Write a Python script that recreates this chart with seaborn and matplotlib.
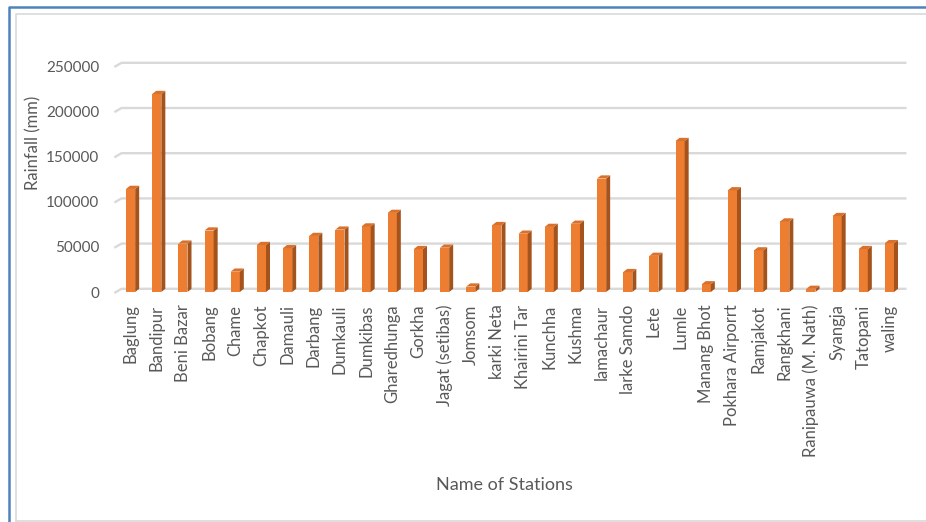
import numpy as np
import pandas as pd
import matplotlib
matplotlib.use("Agg")
import matplotlib.pyplot as plt
from matplotlib.patches import Polygon
from matplotlib.lines import Line2D
import seaborn as sns

stations = [
    "Baglung", "Bandipur", "Beni Bazar", "Bobang", "Chame", "Chapkot",
    "Damauli", "Darbang", "Dumkauli", "Dumkibas", "Gharedhunga", "Gorkha",
    "Jagat (setibas)", "Jomsom", "karki Neta", "Khairini Tar", "Kunchha",
    "Kushma", "lamachaur", "larke Samdo", "Lete", "Lumle", "Manang Bhot",
    "Pokhara Airporrt", "Ramjakot", "Rangkhani", "Ranipauwa (M. Nath)",
    "Syangja", "Tatopani", "waling",
]
rainfall = [
    114000, 219000, 53500, 68000, 22500, 52000,
    48500, 62000, 69000, 72500, 87500, 47500,
    49000, 6000, 74000, 64500, 72000,
    75500, 125500, 22000, 40000, 167000, 8500,
    112500, 46000, 78000, 3500,
    84000, 47500, 54000,
]
y_ticks = [0, 50000, 100000, 150000, 200000, 250000]

df = pd.DataFrame({"station": stations, "rainfall": rainfall})

sns.set_theme(style="white")
plt.rcParams["font.family"] = ["Lato", "DejaVu Sans"]

W, H, DPI = 926, 522, 100
fig = plt.figure(figsize=(W / DPI, H / DPI), dpi=DPI)
fig.patch.set_facecolor("white")

# plot area (front plane of the 3-D columns), in pixels
ax_l, ax_r, ax_b, ax_t = 117.5, 902.5, 292, 66
ax = fig.add_axes([ax_l / W, 1 - ax_b / H, (ax_r - ax_l) / W, (ax_b - ax_t) / H])

FRONT = "#ED7D31"
SIDE = "#A4531C"
TOP = "#D9712C"
GRID = "#D9D9D9"
TEXT = "#595959"

sns.barplot(data=df, x="station", y="rainfall", color=FRONT, width=0.35,
            saturation=1, ax=ax, zorder=3, edgecolor="none")

n = len(stations)
ax.set_xlim(-0.5, n - 0.5)
ax.set_ylim(0, 250000)

# depth of the columns (pixel offsets converted to data units)
dx_px, dy_px = 4.0, 3.2
xpp = n / (ax_r - ax_l)
ypp = 250000 / (ax_b - ax_t)
ddx, ddy = dx_px * xpp, dy_px * ypp

# back-wall gridlines with the slanted floor edge at the left
for v in y_ticks:
    ax.add_line(Line2D([-0.5 - 0.12, -0.5 + ddx, n - 0.5 + ddx],
                       [v - 0.3 * ddy, v + ddy, v + ddy],
                       color=GRID, lw=1.7, zorder=1, clip_on=False,
                       solid_capstyle="butt"))

# side and top faces of each column
for p in list(ax.patches):
    x0 = p.get_x()
    w = p.get_width()
    h = p.get_height()
    x1 = x0 + w
    side = Polygon([(x1, 0), (x1 + ddx, ddy), (x1 + ddx, h + ddy), (x1, h)],
                   closed=True, facecolor=SIDE, edgecolor="none", zorder=3,
                   clip_on=False)
    top = Polygon([(x0, h), (x0 + ddx, h + ddy), (x1 + ddx, h + ddy), (x1, h)],
                  closed=True, facecolor=TOP, edgecolor="none", zorder=3,
                  clip_on=False)
    ax.add_patch(side)
    ax.add_patch(top)

for s in ax.spines.values():
    s.set_visible(False)
ax.grid(False)
ax.set_yticks(y_ticks)
ax.set_yticklabels([str(v) for v in y_ticks])
ax.tick_params(axis="y", length=0, pad=13, labelsize=11, labelcolor=TEXT)
ax.tick_params(axis="x", length=0, pad=9, labelsize=12, labelcolor=TEXT)
for lab in ax.get_xticklabels():
    lab.set_rotation(90)
    lab.set_va("top")
    lab.set_ha("center")
ax.set_xlabel("")
ax.set_ylabel("")

fig.text(33 / W, 1 - 143 / H, "Rainfall (mm)", rotation=90, ha="center",
         va="center", fontsize=12, color=TEXT)
fig.text(504 / W, 1 - 485 / H, "Name of Stations", ha="center", va="center",
         fontsize=13, color=TEXT)

# chart frame: blue outer edge and light inner border
fig.add_artist(Line2D([8.5 / W, 8.5 / W, 1.0], [0.0, 1 - 6.5 / H, 1 - 6.5 / H],
                      transform=fig.transFigure, color="#4F81BD", lw=1.8))
fig.add_artist(Line2D([16 / W, 16 / W, 1.0], [1 - 521 / H, 1 - 13.5 / H, 1 - 13.5 / H],
                      transform=fig.transFigure, color=GRID, lw=1.2))
fig.add_artist(Line2D([16 / W, 1.0], [1 - 521 / H, 1 - 521 / H],
                      transform=fig.transFigure, color=GRID, lw=1.2))

fig.savefig("out.png", dpi=DPI, facecolor="white")
